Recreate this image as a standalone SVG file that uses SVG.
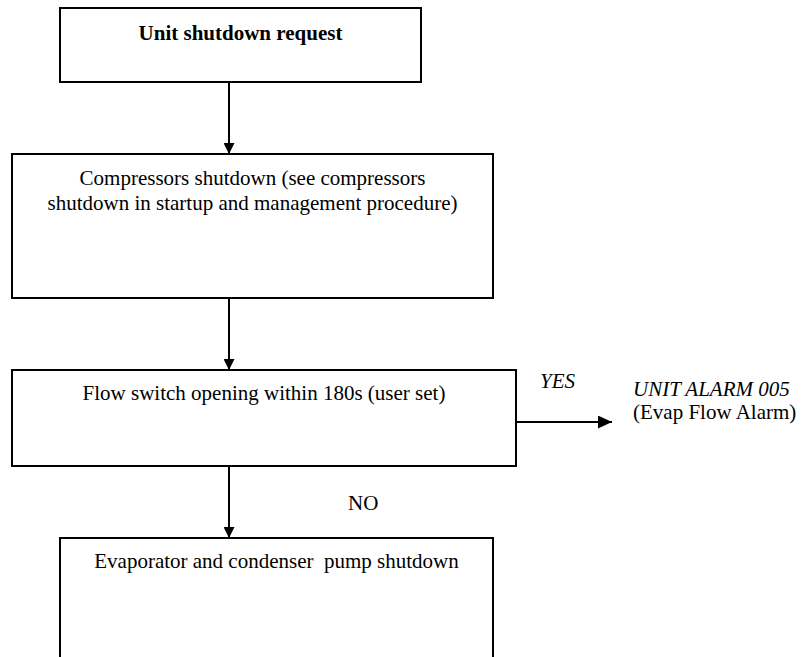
<svg xmlns="http://www.w3.org/2000/svg" width="802" height="657" viewBox="0 0 802 657">
<style>
.box{fill:#fff;stroke:#000;stroke-width:2}
.t{font-family:"Liberation Serif","Times New Roman",serif;font-size:21px;fill:#000}
.c{text-anchor:middle}
.b{font-weight:bold}
.i{font-style:italic}
.ln{stroke:#000;stroke-width:2;fill:none}
</style>
<defs>
<marker id="ah" markerWidth="11" markerHeight="11" refX="11" refY="5.5" orient="auto" markerUnits="userSpaceOnUse">
<path d="M0,0 L11,5.5 L0,11 Z" fill="#000"/>
</marker>
<marker id="ah2" markerWidth="14" markerHeight="13" refX="14" refY="6.5" orient="auto" markerUnits="userSpaceOnUse">
<path d="M0,0 L14,6.5 L0,13 Z" fill="#000"/>
</marker>
</defs>
<rect width="802" height="657" fill="#fff"/>
<g id="connectors">
<line class="ln" x1="229" y1="82" x2="229" y2="154" marker-end="url(#ah)"/>
<line class="ln" x1="229" y1="298" x2="229" y2="370" marker-end="url(#ah)"/>
<line class="ln" x1="229" y1="466" x2="229" y2="538" marker-end="url(#ah)"/>
<line class="ln" x1="516" y1="422" x2="612" y2="422" marker-end="url(#ah2)"/>
<text class="t i" x="540" y="388">YES</text>
<text class="t" x="348" y="510">NO</text>
</g>
<g id="n1">
<rect class="box" x="60" y="8" width="361" height="74"/>
<text class="t c b" x="240.5" y="40">Unit shutdown request</text>
</g>
<g id="n2">
<rect class="box" x="12" y="154" width="481" height="144"/>
<text class="t c" x="252.5" y="185">Compressors shutdown (see compressors</text>
<text class="t c" x="252.5" y="210">shutdown in startup and management procedure)</text>
</g>
<g id="n3">
<rect class="box" x="12" y="370" width="504" height="96"/>
<text class="t c" x="264" y="400">Flow switch opening within 180s (user set)</text>
</g>
<g id="n4">
<rect class="box" x="60" y="538" width="433" height="140"/>
<text class="t c" x="276.5" y="568" xml:space="preserve">Evaporator and condenser  pump shutdown</text>
</g>
<g id="n5">
<text class="t i" x="633" y="396">UNIT ALARM 005</text>
<text class="t" x="633" y="419">(Evap Flow Alarm)</text>
</g>
</svg>
